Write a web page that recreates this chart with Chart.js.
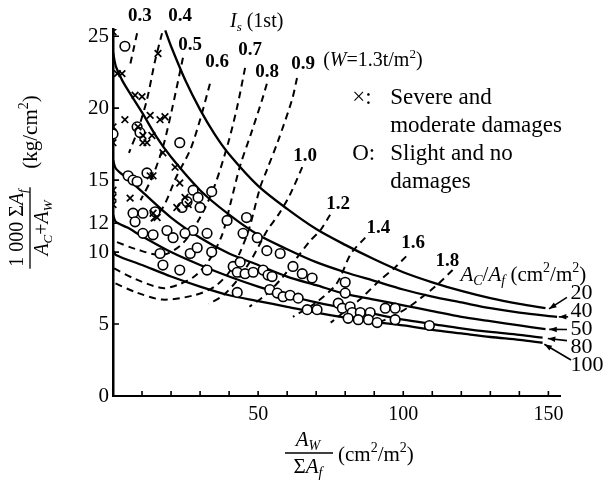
<!DOCTYPE html>
<html>
<head>
<meta charset="utf-8">
<script src="https://cdn.jsdelivr.net/npm/chart.js@4.4.0/dist/chart.umd.min.js"></script>
<style>
html, body { margin: 0; padding: 0; background: #fff; }
</style>
</head>
<body>
<canvas id="myChart" width="609" height="483"></canvas>
<script>
// axis ticks
const xTicks = [0, 10, 20, 30, 40, 50, 60, 70, 80, 90, 100, 110, 120, 130, 140, 150];
const xLabels = [50, 100, 150];
const yTicks = [0, 5, 10, 12, 15, 20, 25];

// Ac/Af curves (solid)
const ratioNames = ['20', '40', '50', '80', '100'];
const ratio20 = [[18,25.4],[20,24.3],[25,21.9],[30,19.9],[35,18.2],[40,16.8],[50,14.6],[60,13.0],[70,11.6],[80,10.5],[90,9.5],[100,8.6],[110,7.9],[120,7.3],[130,6.8],[140,6.4],[149,6.1]];
const ratio40 = [[0,23.9],[1,22.9],[3,22.0],[5,21.3],[10,19.7],[15,18.0],[20,16.6],[30,14.3],[40,12.6],[50,11.2],[60,10.2],[70,9.3],[80,8.6],[90,8.0],[100,7.4],[110,6.9],[120,6.5],[130,6.1],[140,5.8],[153,5.5]];
const ratio50 = [[0,16.4],[1,15.8],[5,15.1],[10,14.2],[20,12.4],[30,11.0],[40,9.9],[50,9.1],[60,8.3],[70,7.7],[80,7.1],[90,6.7],[100,6.3],[110,5.9],[120,5.5],[130,5.2],[140,4.9],[149,4.65]];
const ratio80 = [[0,12.6],[1,12.1],[5,11.7],[10,11.1],[20,10.0],[30,9.1],[40,8.3],[50,7.6],[60,7.0],[70,6.5],[80,6.1],[90,5.7],[100,5.3],[110,5.0],[120,4.7],[130,4.45],[140,4.25],[148,4.05]];
const ratio100 = [[0,10.1],[1,9.8],[10,9.1],[20,8.3],[30,7.6],[40,7.0],[50,6.6],[60,6.2],[70,5.8],[80,5.45],[90,5.15],[100,4.9],[110,4.6],[120,4.35],[130,4.1],[140,3.9],[148,3.7]];

// Is (1st) curves (dashed)
const isNames = ['0.3','0.4','0.5','0.6','0.7','0.8','0.9','1.0','1.2','1.4','1.6','1.8'];
const is03 = [[8.3,25.2],[7.2,24.2],[6.0,23.1]];
const is04 = [[16.9,25.2],[14.5,23.3],[11.7,20.6],[8.6,18.5],[5.5,16.9]];
const is05 = [[24.1,23.5],[20.3,19.9],[17.2,17.3],[13.5,15.2],[9.5,13.6]];
const is06 = [[33.4,21.7],[30,19.2],[26.6,17.1],[22,15.3],[17.2,13.1],[12,11.9]];
const is07 = [[45.5,22.8],[42.8,20.1],[39.7,17.6],[35,14.6],[30,12.4],[24,10.6],[17,9.8],[8,10.2],[0,10.8]];
const is08 = [[53,21.7],[51.4,20.6],[47.5,18.2],[43.8,16.0],[40.5,13.4],[37.6,11.2],[33,9.4],[28,8.3],[22,7.7],[17,7.5],[8,8.1],[0,8.9]];
const is09 = [[63.4,22.1],[61.7,20.6],[57,17.8],[53,15.7],[50.7,14.5],[47,11.7],[43.8,10],[40,8.6],[35,7.6],[28,7.0],[17,6.7],[8,7.2],[0,7.9]];
const is10 = [[65.2,15.9],[61,14.0],[57,12.6],[53.1,11.5],[48,9.6],[43,8.1],[38,7.0],[33,6.4]];
const is12 = [[74.8,12.6],[71.4,11.5],[68,10.8],[63,9.5],[58.6,8.3],[53,7.1],[47,6.2]];
const is14 = [[86.9,11.0],[82,9.9],[77,7.8],[70,6.5],[62,5.5]];
const is16 = [[101,9.7],[97,8.9],[92,8.05],[85,6.7],[80,5.9],[75,5.1]];
const is18 = [[117,8.75],[111,7.6],[106,6.8],[102,6.2],[96,5.5],[90,5.0]];

// buildings: severe/moderate damage (x) and slight/no damage (o)
const severe = [[0,25.3],[1.5,22.4],[3.1,22.4],[15.5,23.8],[7.6,20.9],[10,20.8],[4.1,19.2],[12.8,19.5],[16.2,19.2],[17.9,19.4],
  [8.6,18.7],[10.3,18.1],[13.4,18.1],[11.7,17.6],[0,18.7],[0,17.6],[10.3,17.6],[17.2,16.9],[21.4,15.9],[13.8,15.3],[12.8,15.3],
  [0,14.3],[0,13.8],[0,13.3],[5.9,13.75],[23,14.8],[24.8,13.8],[25.9,13.3],[22,13.1],[13.8,12.7],[15.2,12.4]];
const slight = [[4.1,24.3],[8.3,18.7],[9.3,18.3],[23,17.6],[0,18.2],[5.2,15.3],[6.9,15.0],[8.3,14.9],[11.7,15.5],[6.9,12.7],
  [10.3,12.7],[7.6,12.1],[14.5,12.8],[23.8,13.1],[25.5,13.5],[27.6,14.3],[29.3,13.8],[30,13.1],[34,14.2],[39.3,12.2],
  [46,12.4],[44.8,11.3],[49.7,11.0],[27.6,11.5],[32.4,11.3],[18.6,11.5],[13.8,11.2],[10.3,11.3],[20.7,11.0],[24.8,11.3],
  [16.2,9.9],[23,8.75],[26.6,9.9],[29,10.3],[34,10.0],[17.2,9.1],[32.4,8.75],[41.4,9.0],[43.8,9.3],[42.8,8.6],
  [45.5,8.5],[48.3,8.6],[51.7,8.75],[53.4,8.4],[54.8,8.3],[42.8,7.2],[53,10.1],[57.6,9.9],[62,9.0],[65.2,8.5],
  [68.6,8.2],[80,7.9],[54,7.4],[56.6,7.15],[58.6,6.9],[61,7.0],[63.8,6.8],[66.9,6.0],[70.3,6.0],[77.6,6.45],
  [79,6.1],[81.7,6.2],[82.4,5.8],[85.2,5.8],[88.6,5.8],[93.8,6.1],[97.2,6.1],[81,5.4],[84.5,5.3],[88,5.3],
  [91,5.1],[97.2,5.3],[109,4.9],[80,7.15]];

const SERIF = "'Liberation Serif', 'Times New Roman', serif";
const pts = a => a.map(p => ({ x: p[0], y: p[1] }));

// label places in data units
const isLabelPos = [[9.3,26.4],[23.1,26.4],[26.6,24.4],[35.9,23.2],[47.2,24.0],[53.1,22.5],[65.5,23.05],[66.2,16.7],[77.6,13.3],[91.4,11.7],[103.4,10.6],[115.2,9.4]];
const ratioLabelPos = [[157.6,7.15],[157.6,5.9],[157.6,4.65],[157.6,3.4],[157.6,2.15]];
const ratioArrowTail = [[156.4,6.85],[156.8,5.5],[156.4,4.62],[156.4,3.85],[157.8,2.5]];
const ratioArrowHead = [[150.2,6.05],[153.6,5.5],[150.3,4.63],[149.8,4.0],[148.6,3.6]];

const ratioSets = [ratio20, ratio40, ratio50, ratio80, ratio100];
const isSets = [is03, is04, is05, is06, is07, is08, is09, is10, is12, is14, is16, is18];

const datasets = [
  { label: 'Severe and moderate damages', data: pts(severe), pointStyle: 'crossRot', pointRadius: 4.7, borderColor: '#000', borderWidth: 1.7, backgroundColor: '#000' },
  { label: 'Slight and no damages', data: pts(slight), pointStyle: 'circle', pointRadius: 4.8, borderColor: '#000', borderWidth: 1.6, backgroundColor: '#fff' }
];
ratioSets.forEach((s, i) => datasets.push({
  label: 'Ac/Af ' + ratioNames[i], data: pts(s), showLine: true, pointRadius: 0,
  borderColor: '#000', borderWidth: 2.3, tension: 0.3, fill: false
}));
isSets.forEach((s, i) => datasets.push({
  label: 'Is ' + isNames[i], data: pts(s), showLine: true, pointRadius: 0,
  borderColor: '#000', borderWidth: 2, borderDash: [7, 5], tension: 0.3, fill: false
}));

// text with italics / sub / superscripts: parts = [[text, style]], style: i=italic, b=sub, p=sup
function drawRich(ctx, parts, x, y, size, align, weight) {
  let w = 0;
  const info = parts.map(p => {
    const s = p[1] || '';
    const small = s.includes('b') || s.includes('p');
    const sz = small ? Math.round(size * 0.66) : size;
    const f = (s.includes('i') ? 'italic ' : '') + (weight || '') + ' ' + sz + 'px ' + SERIF;
    ctx.font = f;
    const mw = ctx.measureText(p[0]).width;
    w += mw;
    return { f: f, mw: mw, dy: s.includes('b') ? size * 0.28 : (s.includes('p') ? -size * 0.32 : 0) };
  });
  let cx = align === 'center' ? x - w / 2 : (align === 'right' ? x - w : x);
  ctx.textAlign = 'left';
  ctx.textBaseline = 'middle';
  parts.forEach((p, i) => {
    ctx.font = info[i].f;
    ctx.fillText(p[0], cx, y + info[i].dy);
    cx += info[i].mw;
  });
  return w;
}

const decor = {
  id: 'decor',
  afterDraw(chart) {
    const ctx = chart.ctx;
    const xs = chart.scales.x, ys = chart.scales.y;
    const X = v => xs.getPixelForValue(v), Y = v => ys.getPixelForValue(v);
    const area = chart.chartArea;
    ctx.save();
    ctx.fillStyle = '#000';
    ctx.strokeStyle = '#000';

    // inward tick marks
    ctx.lineWidth = 1.6;
    ctx.beginPath();
    xTicks.forEach(v => { if (v > 0) { ctx.moveTo(X(v), area.bottom); ctx.lineTo(X(v), area.bottom - 5); } });
    yTicks.forEach(v => { if (v > 0) { ctx.moveTo(area.left, Y(v)); ctx.lineTo(area.left + 6, Y(v)); } });
    ctx.stroke();

    // Is labels
    isNames.forEach((n, i) => drawRich(ctx, [[n]], X(isLabelPos[i][0]), Y(isLabelPos[i][1]), 19, 'center', 'bold'));
    drawRich(ctx, [['I', 'i'], ['s', 'ib'], [' (1st)']], X(40.3), Y(26.0), 20, 'left');
    drawRich(ctx, [['('], ['W', 'i'], ['=1.3t/m'], ['2', 'p'], [')']], X(72.4), Y(23.3), 20, 'left');

    // legend text
    drawRich(ctx, [['\u00d7:']], X(82.4), Y(20.7), 23, 'left');
    drawRich(ctx, [['Severe and']], X(95.5), Y(20.7), 23, 'left');
    drawRich(ctx, [['moderate damages']], X(95.5), Y(18.75), 23, 'left');
    drawRich(ctx, [['O:']], X(82.4), Y(16.8), 23, 'left');
    drawRich(ctx, [['Slight and no']], X(95.5), Y(16.8), 23, 'left');
    drawRich(ctx, [['damages']], X(95.5), Y(14.9), 23, 'left');

    // Ac/Af labels and arrows
    drawRich(ctx, [['A', 'i'], ['C', 'ib'], ['/'], ['A', 'i'], ['f', 'ib'], [' (cm'], ['2', 'p'], ['/m'], ['2', 'p'], [')']], X(119.7), Y(8.4), 21, 'left');
    ratioNames.forEach((n, i) => {
      drawRich(ctx, [[n]], X(ratioLabelPos[i][0]), Y(ratioLabelPos[i][1]), 22, 'left');
      const x1 = X(ratioArrowTail[i][0]), y1 = Y(ratioArrowTail[i][1]);
      const x2 = X(ratioArrowHead[i][0]), y2 = Y(ratioArrowHead[i][1]);
      const a = Math.atan2(y2 - y1, x2 - x1);
      ctx.lineWidth = 1.6;
      ctx.beginPath(); ctx.moveTo(x1, y1); ctx.lineTo(x2, y2); ctx.stroke();
      ctx.beginPath();
      ctx.moveTo(x2, y2);
      ctx.lineTo(x2 - 8 * Math.cos(a - 0.35), y2 - 8 * Math.sin(a - 0.35));
      ctx.lineTo(x2 - 8 * Math.cos(a + 0.35), y2 - 8 * Math.sin(a + 0.35));
      ctx.closePath(); ctx.fill();
    });

    // y axis title (rotated fraction)
    ctx.save();
    ctx.translate(30, 228);
    ctx.rotate(-Math.PI / 2);
    const nw = drawRich(ctx, [['1 000 \u03a3'], ['A', 'i'], ['f', 'ib']], 0, -12, 20, 'center');
    ctx.lineWidth = 1.3;
    ctx.beginPath(); ctx.moveTo(-nw / 2 - 2, 0); ctx.lineTo(nw / 2 + 2, 0); ctx.stroke();
    drawRich(ctx, [['A', 'i'], ['C', 'ib'], ['+'], ['A', 'i'], ['W', 'ib']], 0, 13, 20, 'center');
    drawRich(ctx, [['(kg/cm'], ['2', 'p'], [')']], 96, 1, 21, 'center');
    ctx.restore();

    // x axis title
    drawRich(ctx, [['A', 'i'], ['W', 'ib']], 308, 440, 21, 'center');
    ctx.lineWidth = 1.3;
    ctx.beginPath(); ctx.moveTo(285, 453); ctx.lineTo(333, 453); ctx.stroke();
    drawRich(ctx, [['\u03a3'], ['A', 'i'], ['f', 'ib']], 308, 467, 21, 'center');
    drawRich(ctx, [['(cm'], ['2', 'p'], ['/m'], ['2', 'p'], [')']], 338, 455, 21, 'left');
    ctx.restore();
  }
};

const ctx = document.getElementById('myChart').getContext('2d');
new Chart(ctx, {
  type: 'scatter',
  data: { datasets: datasets },
  options: {
    responsive: false,
    animation: false,
    layout: { padding: { top: 29, right: 49, left: 0, bottom: 0 } },
    plugins: { legend: { display: false }, tooltip: { enabled: false } },
    scales: {
      x: {
        type: 'linear', min: 0, max: 154,
        afterBuildTicks: s => { s.ticks = xTicks.map(v => ({ value: v })); },
        afterFit: s => { s.height = 87; },
        grid: { display: false, drawTicks: false },
        border: { display: true, color: '#000', width: 2 },
        ticks: {
          autoSkip: false, maxRotation: 0, padding: 7, color: '#000',
          font: { family: SERIF, size: 20 },
          callback: v => xLabels.includes(v) ? String(v) : ''
        }
      },
      y: {
        type: 'linear', min: 0, max: 25.5,
        afterBuildTicks: s => { s.ticks = yTicks.map(v => ({ value: v })); },
        afterFit: s => { s.width = 113; },
        grid: { display: false, drawTicks: false },
        border: { display: true, color: '#000', width: 2.5 },
        ticks: {
          autoSkip: false, padding: 4, color: '#000',
          font: { family: SERIF, size: 21 },
          callback: v => String(v)
        }
      }
    }
  },
  plugins: [decor]
});
</script>
</body>
</html>
